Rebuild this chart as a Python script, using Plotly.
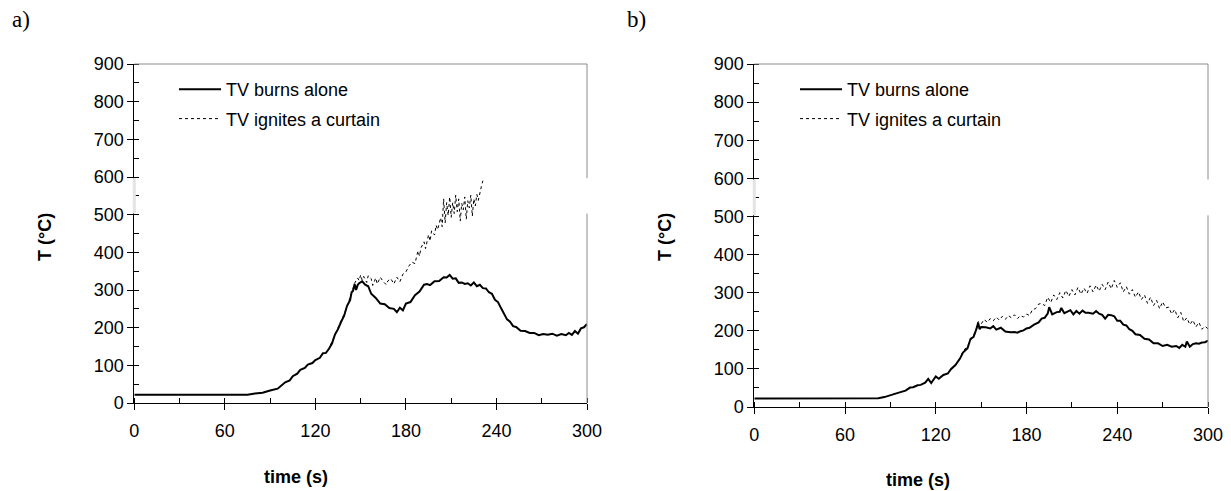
"""Temperature vs time: TV burning alone vs TV igniting a curtain (panels a and b)."""

import plotly.graph_objects as go

# ---- panel a) ----
time_a_alone = [0, 75, 80, 85, 90, 95, 100, 103, 105, 108, 110, 113, 115, 118, 120, 123, 125,
                127, 129, 131, 133, 135, 137, 139, 141, 143, 144, 145, 146, 147, 148, 149, 151,
                153, 155, 157, 160, 163, 166, 169, 172, 174, 176, 178, 180, 183, 186, 189, 192,
                194, 196, 199, 202, 205, 207, 209, 211, 213, 215, 217, 219, 221, 223, 225, 227,
                229, 231, 233, 235, 237, 239, 241, 243, 245, 247, 249, 251, 253, 256, 259, 262,
                265, 268, 271, 274, 277, 280, 283, 286, 288, 290, 292, 294, 296, 298, 300]
temp_a_alone = [22, 22, 25, 27, 33, 38, 55, 60, 71, 78, 88, 93, 102, 106, 114, 120, 132,
                133, 144, 158, 182, 196, 215, 231, 258, 273, 294, 298, 316, 300, 313, 318, 323,
                314, 310, 290, 279, 264, 262, 252, 250, 241, 253, 246, 264, 268, 286, 296, 314,
                316, 313, 323, 324, 334, 333, 340, 330, 331, 319, 320, 316, 318, 312, 320, 310,
                314, 305, 304, 294, 290, 274, 268, 252, 238, 222, 216, 204, 202, 192, 191, 186,
                186, 180, 183, 181, 184, 179, 183, 180, 186, 181, 191, 184, 198, 201, 210]

time_a_curtain = [130, 135, 140, 144, 146, 148, 149, 150, 151, 152, 154, 155, 157, 158, 159,
                  160, 161, 163, 165, 167, 168, 170, 172, 174, 176, 178, 180, 182, 184, 186,
                  188, 189, 190, 192, 193, 195, 196, 197, 199, 200, 201, 203, 204, 205, 206,
                  207, 208, 209, 210, 211, 212, 213, 214, 215, 216, 217, 218, 219, 220, 221,
                  222, 223, 224, 225, 226, 227, 228, 229, 230, 231]
temp_a_curtain = [154, 198, 245, 292, 318, 332, 325, 340, 326, 336, 320, 338, 330, 312, 322,
                  332, 316, 334, 322, 314, 324, 330, 316, 334, 322, 342, 348, 364, 374, 370,
                  404, 390, 412, 428, 410, 447, 430, 457, 446, 472, 460, 492, 468, 542, 478,
                  532, 498, 547, 493, 532, 503, 552, 508, 542, 483, 530, 513, 547, 488, 537,
                  518, 552, 496, 542, 523, 554, 538, 562, 575, 590]

# ---- panel b) ----
time_b_alone = [0, 78, 82, 86, 90, 95, 100, 103, 105, 108, 110, 113, 115, 117, 118, 120, 122,
                125, 128, 130, 133, 136, 138, 140, 141, 143, 145, 147, 148, 149, 150, 153, 156,
                158, 160, 163, 166, 168, 170, 172, 174, 176, 178, 180, 182, 185, 188, 190, 192,
                194, 195, 197, 200, 202, 203, 205, 207, 209, 211, 213, 215, 217, 219, 221, 224,
                226, 228, 230, 232, 234, 236, 238, 240, 242, 244, 246, 248, 250, 252, 255, 258,
                261, 264, 267, 270, 273, 276, 279, 281, 283, 285, 286, 288, 290, 292, 294, 296,
                298, 300]
temp_b_alone = [22, 22, 23, 26, 30, 37, 43, 51, 52, 57, 58, 64, 74, 63, 69, 80, 74,
                84, 88, 99, 110, 127, 143, 152, 154, 179, 184, 206, 221, 204, 210, 209, 206,
                212, 203, 208, 198, 197, 196, 197, 195, 199, 201, 206, 208, 216, 222, 232, 234,
                245, 262, 243, 249, 250, 260, 246, 249, 254, 243, 252, 245, 253, 247, 247, 245,
                252, 245, 242, 232, 242, 241, 238, 226, 226, 216, 214, 204, 200, 191, 189, 179,
                177, 167, 167, 160, 163, 158, 160, 155, 163, 158, 172, 158, 165, 167, 166, 169,
                170, 174]

time_b_curtain = [130, 135, 138, 141, 144, 146, 148, 150, 152, 154, 156, 158, 160, 162, 164,
                  166, 168, 170, 172, 174, 176, 178, 180, 182, 184, 186, 188, 190, 192, 194,
                  196, 198, 200, 202, 204, 206, 208, 210, 212, 214, 216, 218, 220, 222, 224,
                  226, 228, 230, 232, 234, 236, 238, 240, 242, 244, 246, 248, 250, 252, 254,
                  256, 258, 260, 262, 264, 266, 268, 270, 272, 274, 276, 278, 280, 282, 284,
                  286, 288, 290, 292, 294, 296, 298, 300]
temp_b_curtain = [98, 120, 146, 160, 182, 196, 224, 218, 230, 222, 232, 226, 236, 228, 238,
                  230, 240, 234, 242, 232, 240, 236, 244, 240, 256, 258, 270, 272, 266, 288,
                  274, 294, 282, 300, 286, 306, 290, 308, 294, 314, 296, 312, 298, 318, 302,
                  320, 304, 322, 308, 328, 310, 332, 314, 326, 302, 316, 296, 308, 288, 302,
                  282, 294, 272, 288, 266, 280, 258, 276, 260, 262, 244, 256, 234, 248, 224,
                  234, 216, 228, 210, 222, 204, 212, 205]

series_names = ["TV burns alone", "TV ignites a curtain"]
x_ticks = [0, 60, 120, 180, 240, 300]

W, H = 1231, 491
OFF = 8  # the page body margin shifts the plot by this many px
FONT = "Liberation Sans, Arial, sans-serif"


def px_x(v):
    return (v - OFF) / W


def px_y(v):
    return 1 - (v - OFF) / H


fig = go.Figure()

panels = [
    ("x", "y", "legend", time_a_alone, temp_a_alone, time_a_curtain, temp_a_curtain),
    ("x2", "y2", "legend2", time_b_alone, temp_b_alone, time_b_curtain, temp_b_curtain),
]
for xa, ya, leg, t1, v1, t2, v2 in panels:
    fig.add_trace(go.Scatter(x=t1, y=v1, mode="lines", name=series_names[0],
                             line=dict(color="black", width=2),
                             xaxis=xa, yaxis=ya, legend=leg, legendgroup=leg + "a"))
    fig.add_trace(go.Scatter(x=t2, y=v2, mode="lines", name=series_names[1],
                             line=dict(color="black", width=1, dash="dot"),
                             xaxis=xa, yaxis=ya, legend=leg, legendgroup=leg + "b"))


def x_axis(domain, anchor):
    return dict(domain=domain, anchor=anchor, range=[0, 300], tickvals=x_ticks,
                ticks="outside", ticklen=6, tickcolor="black", showline=True,
                linecolor="black", linewidth=1, showgrid=False, zeroline=False,
                ticklabelstandoff=5, tickfont=dict(family=FONT, size=18, color="black"),
                minor=dict(dtick=30, tick0=0, ticks="inside", ticklen=5, tickcolor="black"))


def y_axis(domain, anchor):
    return dict(domain=domain, anchor=anchor, range=[0, 900], dtick=100, tick0=0,
                ticks="outside", ticklen=6, tickcolor="black", showline=True,
                linecolor="black", linewidth=1, showgrid=False, zeroline=False,
                tickfont=dict(family=FONT, size=18, color="black"),
                minor=dict(dtick=50, tick0=0, ticks="inside", ticklen=5, tickcolor="black"))


def inner_ticks(over, anchor, is_x):
    d = dict(overlaying=over, anchor=anchor, ticks="inside", ticklen=6, tickcolor="black",
             showticklabels=False, showline=False, showgrid=False, zeroline=False)
    if is_x:
        d.update(range=[0, 300], tickvals=x_ticks)
    else:
        d.update(range=[0, 900], dtick=100, tick0=0)
    return d


dom_xa = [px_x(134.3), px_x(587)]
dom_xb = [px_x(754.3), px_x(1208)]
dom_ya = [px_y(403), px_y(64)]
dom_yb = [px_y(407), px_y(64)]

legend_common = dict(bgcolor="rgba(0,0,0,0)", font=dict(family=FONT, size=18, color="black"),
                     traceorder="grouped", tracegroupgap=3, itemwidth=42,
                     xanchor="left", yanchor="top")

fig.update_layout(
    width=W, height=H,
    paper_bgcolor="white", plot_bgcolor="white",
    margin=dict(l=0, r=0, t=0, b=0, autoexpand=False),
    xaxis=x_axis(dom_xa, "y"),
    yaxis=y_axis(dom_ya, "x"),
    xaxis2=x_axis(dom_xb, "y2"),
    yaxis2=y_axis(dom_yb, "x2"),
    xaxis3=inner_ticks("x", "y", True),
    yaxis3=inner_ticks("y", "x", False),
    xaxis4=inner_ticks("x2", "y2", True),
    yaxis4=inner_ticks("y2", "x2", False),
    legend=dict(x=px_x(174), y=px_y(71), **legend_common),
    legend2=dict(x=px_x(795), y=px_y(71), **legend_common),
)

# frame: grey top and right edges, with the faded band between 500 and 600
for xr, yr in [("x", "y"), ("x2", "y2")]:
    fig.add_shape(type="line", xref=f"{xr} domain", yref=f"{yr} domain",
                  x0=0, x1=1, y0=1, y1=1, line=dict(color="#8c8c8c", width=1))
    fig.add_shape(type="line", xref=f"{xr} domain", yref=f"{yr} domain",
                  x0=1, x1=1, y0=0, y1=1, line=dict(color="#8c8c8c", width=1))
    fig.add_shape(type="line", xref=f"{xr} domain", yref=yr,
                  x0=1, x1=1, y0=503, y1=597, line=dict(color="white", width=3))
    fig.add_shape(type="line", xref=f"{xr} domain", yref=yr,
                  x0=0, x1=0, y0=503, y1=597, line=dict(color="#e4e4e4", width=3))

bold = dict(family=FONT, size=18, color="black")
serif = dict(family="Liberation Serif, Times New Roman, serif", size=23, color="black")
notes = [
    ("a)", 10, 20, 0, serif, "left"),
    ("b)", 625, 20, 0, serif, "left"),
    ("<b>T (°C)</b>", 45, 237, -90, bold, "center"),
    ("<b>T (°C)</b>", 665, 237, -90, bold, "center"),
    ("<b>time (s)</b>", 296, 477, 0, bold, "center"),
    ("<b>time (s)</b>", 918, 480, 0, bold, "center"),
]
for text, x, y, ang, font, anchor in notes:
    fig.add_annotation(text=text, x=px_x(x), y=px_y(y), xref="paper", yref="paper",
                       showarrow=False, textangle=ang, font=font,
                       xanchor=anchor, yanchor="middle")

fig.write_html("out.html")
